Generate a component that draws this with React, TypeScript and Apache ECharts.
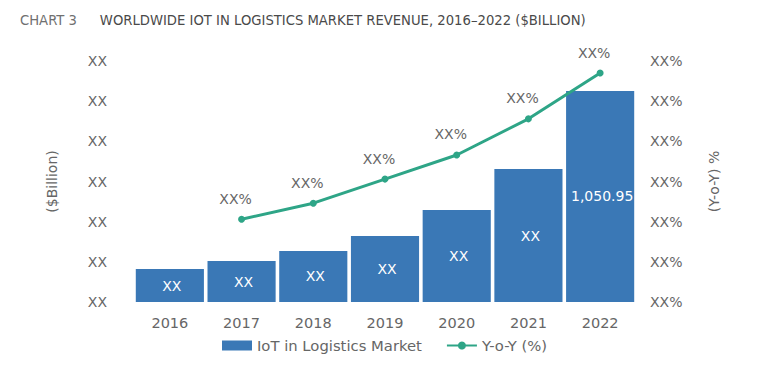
import React, { useEffect, useRef } from "react";
import * as echarts from "echarts";

const years = ["2016", "2017", "2018", "2019", "2020", "2021", "2022"];
const marketValues = [164, 204, 254, 329, 458, 662, 1050.95];
const yoyValues: (number | null)[] = [null, 20.6, 24.6, 30.6, 36.6, 45.6, 57.0];
const barLabels = ["XX", "XX", "XX", "XX", "XX", "XX", "1,050.95"];
const leftTickLabel = "XX";
const rightTickLabel = "XX%";
const lineLabel = "XX%";

const FONT = "DejaVu Sans";
const GRAY = "#666666";

export default function App() {
  const ref = useRef<HTMLDivElement>(null);
  useEffect(() => {
    if (!ref.current) return;
    const chart = echarts.init(ref.current, null, { renderer: "svg" });
    chart.setOption({
      animation: false,
      backgroundColor: "#ffffff",
      textStyle: { fontFamily: FONT },
      title: {
        left: 15,
        top: 6,
        text: "{a|CHART 3}    {b|WORLDWIDE IOT IN LOGISTICS MARKET REVENUE, 2016–2022 ($BILLION)}",
        textStyle: {
          fontWeight: "normal",
          rich: {
            a: { fontFamily: FONT, fontSize: 13.2, fontWeight: "normal", color: "#707070" },
            b: { fontFamily: FONT, fontSize: 13.2, fontWeight: "normal", color: "#4a4a4a" },
          },
        },
      },
      legend: {
        bottom: 13,
        left: 217,
        itemGap: 24,
        textStyle: { fontFamily: FONT, fontSize: 14.8, color: GRAY },
        data: [
          { name: "IoT in Logistics Market", icon: "rect", itemStyle: { borderWidth: 0 } },
          { name: "Y-o-Y (%)" },
        ],
        itemWidth: 30,
        itemHeight: 10,
      },
      grid: { left: 134, right: 144, top: 61, bottom: 69 },
      xAxis: {
        type: "category",
        data: years,
        axisLine: { show: false },
        axisTick: { show: false },
        axisLabel: { fontFamily: FONT, fontSize: 14.5, color: GRAY, margin: 13 },
      },
      yAxis: [
        {
          type: "value",
          min: 0,
          max: 1200,
          interval: 200,
          splitLine: { show: false },
          axisLine: { show: false },
          axisTick: { show: false },
          axisLabel: {
            fontFamily: FONT,
            fontSize: 14,
            color: GRAY,
            margin: 27,
            formatter: () => leftTickLabel,
          },
          name: "($Billion)",
          nameLocation: "middle",
          nameRotate: 90,
          nameGap: 75,
          nameTextStyle: { fontFamily: FONT, fontSize: 14, color: GRAY },
        },
        {
          type: "value",
          min: 0,
          max: 60,
          interval: 10,
          splitLine: { show: false },
          axisLine: { show: false },
          axisTick: { show: false },
          axisLabel: {
            fontFamily: FONT,
            fontSize: 14,
            color: GRAY,
            margin: 14,
            formatter: () => rightTickLabel,
          },
          name: "(Y-o-Y) %",
          nameLocation: "middle",
          nameRotate: 90,
          nameGap: 71,
          nameTextStyle: { fontFamily: FONT, fontSize: 14, color: GRAY },
        },
      ],
      series: [
        {
          name: "IoT in Logistics Market",
          type: "bar",
          yAxisIndex: 0,
          data: marketValues,
          barCategoryGap: "5%",
          itemStyle: { color: "#3a78b6" },
          label: {
            show: true,
            position: "inside",
            offset: [2, 0],
            color: "#ffffff",
            fontFamily: FONT,
            fontSize: 14,
            formatter: (p: any) => barLabels[p.dataIndex],
          },
        },
        {
          name: "Y-o-Y (%)",
          type: "line",
          yAxisIndex: 1,
          data: yoyValues,
          symbol: "circle",
          symbolSize: 7,
          lineStyle: { color: "#2ea587", width: 3 },
          itemStyle: { color: "#2ea587" },
          label: {
            show: true,
            position: "top",
            distance: 10,
            offset: [-6, 0],
            color: GRAY,
            fontFamily: FONT,
            fontSize: 14,
            formatter: () => lineLabel,
          },
        },
      ],
    });
    return () => chart.dispose();
  }, []);
  return <div ref={ref} style={{ width: 780, height: 371, margin: -8 }} />;
}
